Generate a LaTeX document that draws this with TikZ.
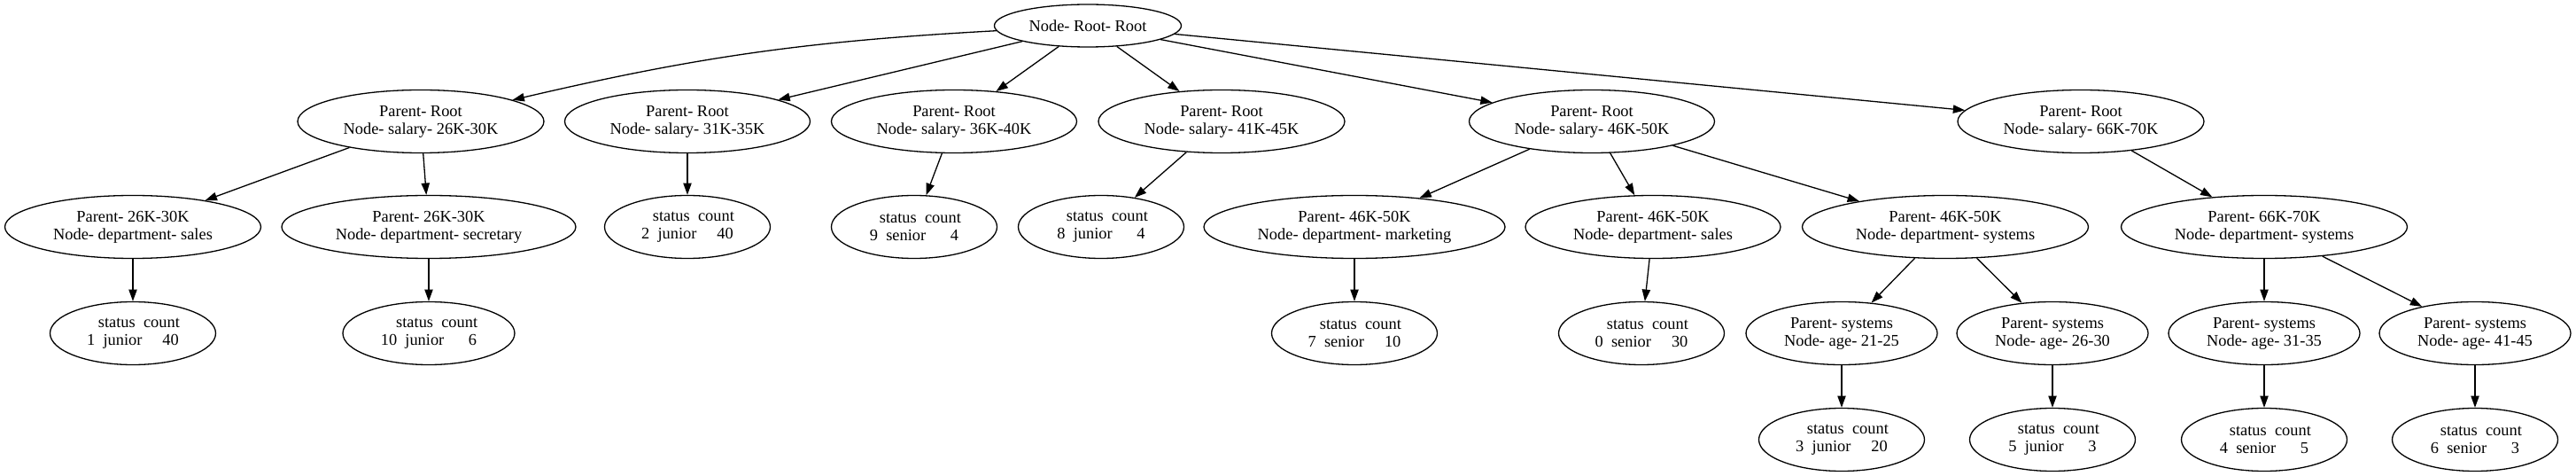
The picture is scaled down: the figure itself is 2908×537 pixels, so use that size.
\documentclass[tikz,border=0pt]{standalone}
\usepackage{fontspec}
\setmainfont{Liberation Serif}
\usepackage{tikz}
\usetikzlibrary{shapes.geometric, arrows.meta}

\newcommand{\statlabel}[4]{\hspace*{#1}status~~count\\#2~~#3#4}

\begin{document}
\begin{tikzpicture}[x=1pt, y=1pt,
    tnode/.style={ellipse, draw, line width=1.3pt, inner sep=0pt, minimum height=71pt, align=center, font=\fontsize{18.4}{20}\selectfont},
    cnode/.style={tnode, minimum width=187pt},
    link/.style={-{Triangle[length=13.3pt, width=9.3pt]}, line width=1.3pt}]
    \useasboundingbox (0,0) rectangle (2908,-537);

    % Root
    \node[tnode, minimum width=211pt, minimum height=48pt] (root) at (1228,-29) {Node- Root- Root};

    % Salary level
    \node[tnode, minimum width=278pt] (s26) at (475,-137) {Parent- Root\\Node- salary- 26K-30K};
    \node[tnode, minimum width=277pt] (s31) at (776,-137) {Parent- Root\\Node- salary- 31K-35K};
    \node[tnode, minimum width=277pt] (s36) at (1077,-137) {Parent- Root\\Node- salary- 36K-40K};
    \node[tnode, minimum width=278pt] (s41) at (1379,-137) {Parent- Root\\Node- salary- 41K-45K};
    \node[tnode, minimum width=277pt] (s46) at (1797,-137) {Parent- Root\\Node- salary- 46K-50K};
    \node[tnode, minimum width=278pt] (s66) at (2349,-137) {Parent- Root\\Node- salary- 66K-70K};

    % Department level
    \node[tnode, minimum width=289pt] (d26sales) at (150,-256) {Parent- 26K-30K\\Node- department- sales};
    \node[tnode, minimum width=332pt] (d26sec) at (484,-256) {Parent- 26K-30K\\Node- department- secretary};
    \node[cnode] (c2) at (776,-256) {\statlabel{0.75em}{2}{junior}{~~~~~40}};
    \node[cnode] (c9) at (1032,-256) {\statlabel{0.75em}{9}{senior}{~~~~~~4}};
    \node[cnode] (c8) at (1243,-256) {\statlabel{0.75em}{8}{junior}{~~~~~~4}};
    \node[tnode, minimum width=340pt] (d46mkt) at (1529,-256) {Parent- 46K-50K\\Node- department- marketing};
    \node[tnode, minimum width=288pt] (d46sales) at (1866,-256) {Parent- 46K-50K\\Node- department- sales};
    \node[tnode, minimum width=323pt] (d46sys) at (2196,-256) {Parent- 46K-50K\\Node- department- systems};
    \node[tnode, minimum width=323pt] (d66sys) at (2556,-256) {Parent- 66K-70K\\Node- department- systems};

    % Age level
    \node[cnode] (c1) at (150,-376) {\statlabel{0.75em}{1}{junior}{~~~~~40}};
    \node[cnode, minimum width=194pt] (c10) at (484,-376) {\statlabel{1em}{10}{junior}{~~~~~~6}};
    \node[cnode] (c7) at (1529,-376) {\statlabel{0.75em}{7}{senior}{~~~~~10}};
    \node[cnode] (c0) at (1853,-376) {\statlabel{0.75em}{0}{senior}{~~~~~30}};
    \node[tnode, minimum width=216pt] (a21) at (2079,-376) {Parent- systems\\Node- age- 21-25};
    \node[tnode, minimum width=216pt] (a26) at (2317,-376) {Parent- systems\\Node- age- 26-30};
    \node[tnode, minimum width=216pt] (a31) at (2556,-376) {Parent- systems\\Node- age- 31-35};
    \node[tnode, minimum width=216pt] (a41) at (2794,-376) {Parent- systems\\Node- age- 41-45};

    % Counts
    \node[cnode] (c3) at (2079,-496) {\statlabel{0.75em}{3}{junior}{~~~~~20}};
    \node[cnode] (c5) at (2317,-496) {\statlabel{0.75em}{5}{junior}{~~~~~~3}};
    \node[cnode] (c4) at (2556,-496) {\statlabel{0.75em}{4}{senior}{~~~~~~5}};
    \node[cnode] (c6) at (2794,-496) {\statlabel{0.75em}{6}{senior}{~~~~~~3}};

    % Edges
    \draw[link] (root) to[bend right=5] (s26);
    \draw[link] (root) -- (s31);
    \draw[link] (root) -- (s36);
    \draw[link] (root) -- (s41);
    \draw[link] (root) -- (s46);
    \draw[link] (root) -- (s66);

    \draw[link] (s26) -- (d26sales);
    \draw[link] (s26) -- (d26sec);
    \draw[link] (s31) -- (c2);
    \draw[link] (s36) -- (c9);
    \draw[link] (s41) -- (c8);
    \draw[link] (s46) -- (d46mkt);
    \draw[link] (s46) -- (d46sales);
    \draw[link] (s46) -- (d46sys);
    \draw[link] (s66) -- (d66sys);

    \draw[link] (d26sales) -- (c1);
    \draw[link] (d26sec) -- (c10);
    \draw[link] (d46mkt) -- (c7);
    \draw[link] (d46sales) -- (c0);
    \draw[link] (d46sys) -- (a21);
    \draw[link] (d46sys) -- (a26);
    \draw[link] (d66sys) -- (a31);
    \draw[link] (d66sys) -- (a41);

    \draw[link] (a21) -- (c3);
    \draw[link] (a26) -- (c5);
    \draw[link] (a31) -- (c4);
    \draw[link] (a41) -- (c6);
\end{tikzpicture}
\end{document}
